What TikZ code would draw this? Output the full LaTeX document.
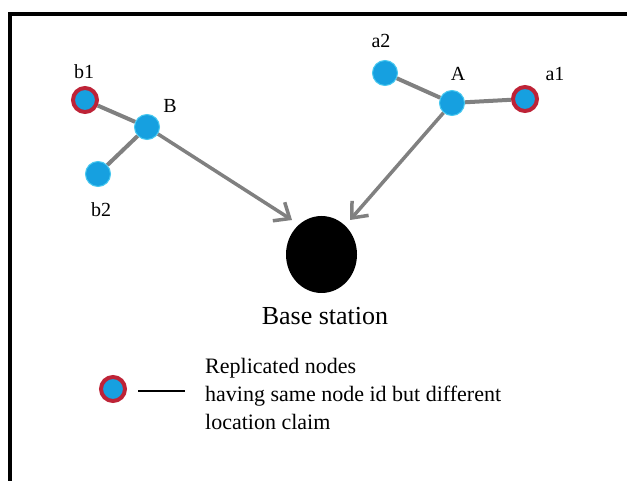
\documentclass[tikz,border=0pt]{standalone}
\usepackage{fontspec}
\setmainfont{Liberation Serif}
\usetikzlibrary{arrows.meta,shapes.geometric}
\definecolor{nodeblue}{RGB}{22,160,224}
\definecolor{nodeedge}{RGB}{70,200,240}
\definecolor{ringred}{RGB}{190,35,55}
\definecolor{linkgray}{RGB}{128,128,128}
\begin{document}
\begin{tikzpicture}[x=1pt,y=-1pt,
  sensor/.style={circle,fill=nodeblue,draw=nodeedge,line width=1pt,minimum size=25pt,inner sep=0pt},
  replica/.style={circle,fill=nodeblue,draw=ringred,line width=4pt,minimum size=24pt,inner sep=0pt},
  link/.style={draw=linkgray,line width=4pt},
  toward/.style={draw=linkgray,line width=3.5pt,-{Straight Barb[length=13pt,width=22pt,line width=3.5pt]}},
  lbl/.style={font=\fontsize{20}{22}\selectfont,inner sep=0pt}]
\useasboundingbox (0,0) rectangle (627,481);
\fill[white] (0,0) rectangle (627,481);
\draw[line width=4pt] (10,481) -- (10,14) -- (627,14);
% nodes
\node[replica] (b1) at (85,100) {};
\node[sensor] (B) at (147,127) {};
\node[sensor] (b2) at (98,174) {};
\node[sensor] (a2) at (385,73) {};
\node[sensor] (A) at (452,103) {};
\node[replica] (a1) at (525,99) {};
\node[ellipse,fill=black,minimum width=71pt,minimum height=77pt,inner sep=0pt] (bs) at (321.5,254.5) {};
\coordinate (tipB) at (292,220);
\coordinate (tipA) at (350,220);
% labels
\node[lbl] (lb1) at (84,72) {b1};
\node[lbl] (lB) at (170,106) {B};
\node[lbl] (lb2) at (101,210) {b2};
\node[lbl] (la2) at (381,41) {a2};
\node[lbl] (lA) at (458,74) {A};
\node[lbl] (la1) at (555,74) {a1};
\node[font=\fontsize{26}{30}\selectfont,inner sep=0pt] (bslbl) at (325,316) {Base station};
% links
\draw[link] (b1) -- (B);
\draw[link] (b2) -- (B);
\draw[link] (a2) -- (A);
\draw[link] (a1) -- (A);
\draw[toward] (B) -- (tipB);
\draw[toward] (A) -- (tipA);
% legend
\node[replica] (leg) at (113,389) {};
\coordinate (legL) at (138,391);
\coordinate (legR) at (185,391);
\draw[line width=1.2pt] (legL) -- (legR);
\node[anchor=north west,align=left,inner sep=0pt,font=\fontsize{22}{28}\selectfont] (legtext) at (205,358) {Replicated nodes\\having same node id but different\\location claim};
\end{tikzpicture}
\end{document}
